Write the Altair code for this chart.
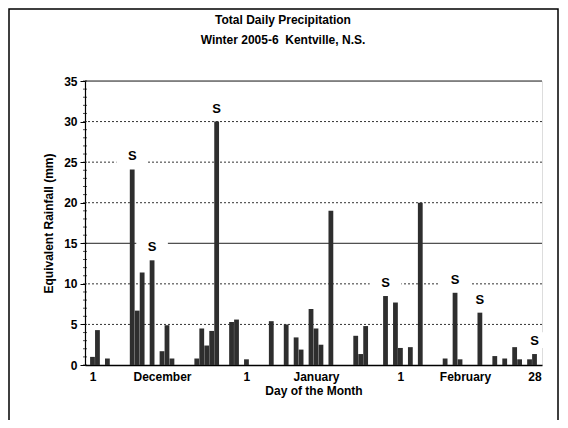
import altair as alt
import pandas as pd

# ---- data ----
days = [0, 1, 3, 8, 9, 10, 12, 14, 15, 16,
        21, 22, 23, 24, 25, 28, 29, 31,
        36, 39, 41, 42, 44, 45, 46, 48,
        53, 54, 55, 59, 61, 62, 64, 66,
        71, 73, 74, 78, 81, 83, 85, 86, 88, 89]
rain = [1.0, 4.3, 0.8, 24.1, 6.7, 11.4, 12.9, 1.7, 4.9, 0.8,
        0.8, 4.5, 2.4, 4.2, 30.0, 5.3, 5.6, 0.7,
        5.4, 5.0, 3.4, 1.9, 6.9, 4.5, 2.5, 19.0,
        3.6, 1.35, 4.8, 8.5, 7.7, 2.1, 2.2, 20.0,
        0.8, 8.9, 0.7, 6.45, 1.1, 0.8, 2.2, 0.7, 0.7, 1.35]
snow_days = [8, 12, 25, 59, 73, 78, 89]

tick_pos = [0, 14, 31, 45, 62, 75, 89]
tick_text = ["1", "December", "1", "January", "1", "February", "28"]

dotted_grid = [5, 10, 20, 25, 30]
solid_grid = [15, 35]
minor_ticks = list(range(0, 36))

title_lines = ["Total Daily Precipitation", "Winter 2005-6 \u00a0Kentville, N.S."]

FONT = "Liberation Sans"

df = pd.DataFrame({"day": days, "rain": rain})
df["snow"] = df["day"].isin(snow_days)
snow_df = df[df["snow"]]

label_map = "{" + ",".join(f"'{p}':'{t}'" for p, t in zip(tick_pos, tick_text)) + "}"

x_scale = alt.Scale(domain=[-0.5, 89.5], nice=False, zero=False)
y_scale = alt.Scale(domain=[0, 35], nice=False)

x_axis = alt.Axis(values=tick_pos, labelExpr=f"{label_map}[datum.value + '']",
                  ticks=False, grid=False, labelFont=FONT, labelFontWeight="bold",
                  labelFontSize=12, labelColor="#000", labelPadding=6,
                  domainColor="#000", domainWidth=1.5,
                  title="Day of the Month", titleFont=FONT, titleFontWeight="bold",
                  titleFontSize=12, titleColor="#000", titlePadding=3,
                  labelOverlap=False)
y_axis = alt.Axis(values=list(range(0, 36, 5)), grid=False, tickSize=5,
                  tickColor="#000", labelFont=FONT, labelFontWeight="bold",
                  labelFontSize=12, labelColor="#000", labelPadding=3,
                  domainColor="#000", domainWidth=1.2,
                  title="Equivalent Rainfall (mm)", titleFont=FONT,
                  titleFontWeight="bold", titleFontSize=12, titleColor="#000",
                  titlePadding=8)

X = lambda f: alt.X(f, scale=x_scale, axis=x_axis)
Y = lambda f: alt.Y(f, scale=y_scale, axis=y_axis)

frame = alt.Chart(pd.DataFrame({"a": [0]})).mark_rect(
    filled=False, stroke="#000", strokeWidth=1.5).encode(
    x=alt.value(-76), x2=alt.value(473), y=alt.value(-72), y2=alt.value(360))

def title_line(txt, ypx):
    return alt.Chart(pd.DataFrame({"t": [txt]})).mark_text(
        font=FONT, fontWeight="bold", fontSize=12, color="#000",
        baseline="middle", align="center").encode(
        text="t:N", x=alt.value(198), y=alt.value(ypx))

title1 = title_line(title_lines[0], -61)
title2 = title_line(title_lines[1], -41)

grid_dot = alt.Chart(pd.DataFrame({"rain": dotted_grid})).mark_rule(
    color="#333", strokeWidth=1, strokeDash=[2, 2]).encode(y=Y("rain:Q"))
grid_solid = alt.Chart(pd.DataFrame({"rain": solid_grid})).mark_rule(
    color="#222", strokeWidth=1).encode(y=Y("rain:Q"))

minor = alt.Chart(pd.DataFrame({"rain": minor_ticks})).mark_tick(
    color="#000", size=4, thickness=1, orient="horizontal").encode(
    y=Y("rain:Q"), x=alt.value(0))

boxes = alt.Chart(snow_df).mark_point(
    shape="M-1,-0.5H1V0.5H-1Z", filled=True, fill="white",
    size=1000, opacity=1, yOffset=-14).encode(x=X("day:Q"), y=Y("rain:Q"))

bars = alt.Chart(df).mark_bar(size=4.8, color="#2e2e2e").encode(
    x=X("day:Q"), y=Y("rain:Q"))

snow_text = alt.Chart(snow_df).mark_text(
    text="S", font=FONT, fontWeight="bold", fontSize=13, color="#000",
    baseline="alphabetic", dy=-9).encode(x=X("day:Q"), y=Y("rain:Q"))

chart = alt.layer(frame, grid_dot, grid_solid, boxes, bars, minor, snow_text,
                  title1, title2).properties(
    width=457, height=284,
    autosize=alt.AutoSizeParams(type="none"),
    padding={"left": 77, "top": 73, "right": 18, "bottom": 55},
).configure_view(stroke="#666", strokeWidth=1).configure(background="white")

chart.save("out.html", embed_options={"renderer": "svg", "actions": False})
